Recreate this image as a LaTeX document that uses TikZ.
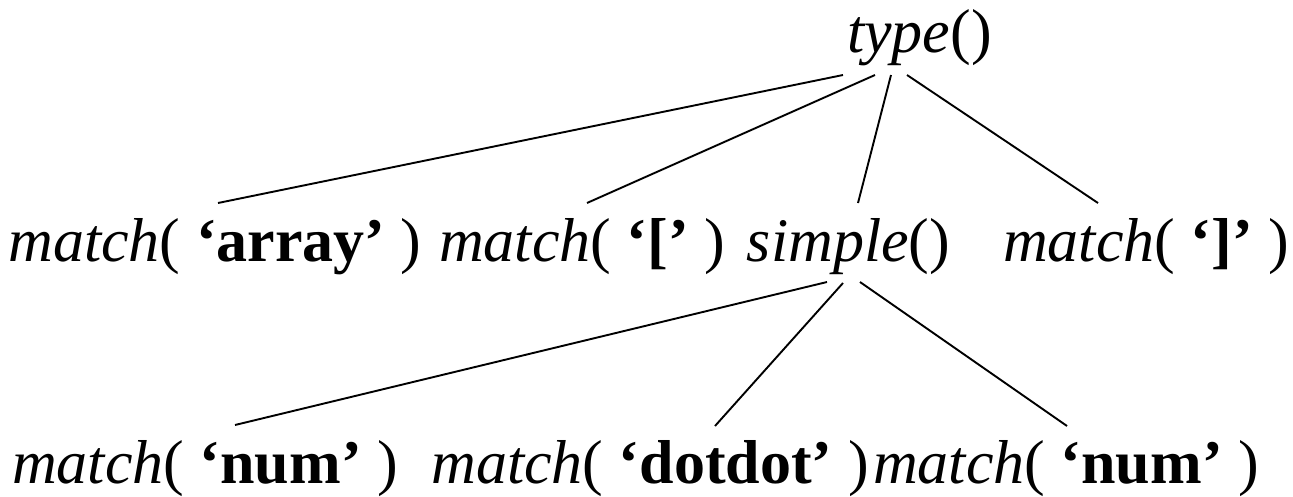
\documentclass[tikz,border=0pt]{standalone}
\usepackage{fontspec}
\setmainfont{Liberation Serif}
\tikzset{
  lbl/.style={inner sep=0pt, anchor=base, font=\fontsize{62}{74}\selectfont},
  edge/.style={line width=1.9pt}
}
\newcommand{\call}[2]{\textit{#1}( \textbf{`#2'} )}
\begin{document}
\begin{tikzpicture}[x=1pt, y=-1pt]
        \useasboundingbox (0,0) rectangle (1293,496);

        %radice
        \node[lbl] (type) at (919.5,52) {\textit{type}()};

        %secondo livello
        \node[lbl] (arr) at (215,261) {\call{match}{array}};
        \node[lbl] (lbr) at (582,261) {\call{match}{[}};
        \node[lbl] (simple) at (848.5,261) {\textit{simple}()};
        \node[lbl] (rbr) at (1146,261) {\call{match}{]}};

        %terzo livello
        \node[lbl] (numa) at (205,483) {\call{match}{num}};
        \node[lbl] (dots) at (650,483) {\call{match}{dotdot}};
        \node[lbl] (numb) at (1066,483) {\call{match}{num}};

        %rami da type()
        \draw[edge] ([xshift=-76.5pt,yshift=-23pt]type.base)--([xshift=3pt,yshift=58pt]arr.base);
        \draw[edge] ([xshift=-44.5pt,yshift=-23pt]type.base)--([xshift=5pt,yshift=58pt]lbr.base);
        \draw[edge] ([xshift=-28.5pt,yshift=-23pt]type.base)--([xshift=9.5pt,yshift=58pt]simple.base);
        \draw[edge] ([xshift=-12.5pt,yshift=-23pt]type.base)--([xshift=-48pt,yshift=58pt]rbr.base);

        %rami da simple()
        \draw[edge] ([xshift=-21.5pt,yshift=-21pt]simple.base)--([xshift=30pt,yshift=58pt]numa.base);
        \draw[edge] ([xshift=-5.5pt,yshift=-22pt]simple.base)--([xshift=65pt,yshift=57pt]dots.base);
        \draw[edge] ([xshift=11.5pt,yshift=-21pt]simple.base)--([xshift=1pt,yshift=57pt]numb.base);

    \end{tikzpicture}
\end{document}
